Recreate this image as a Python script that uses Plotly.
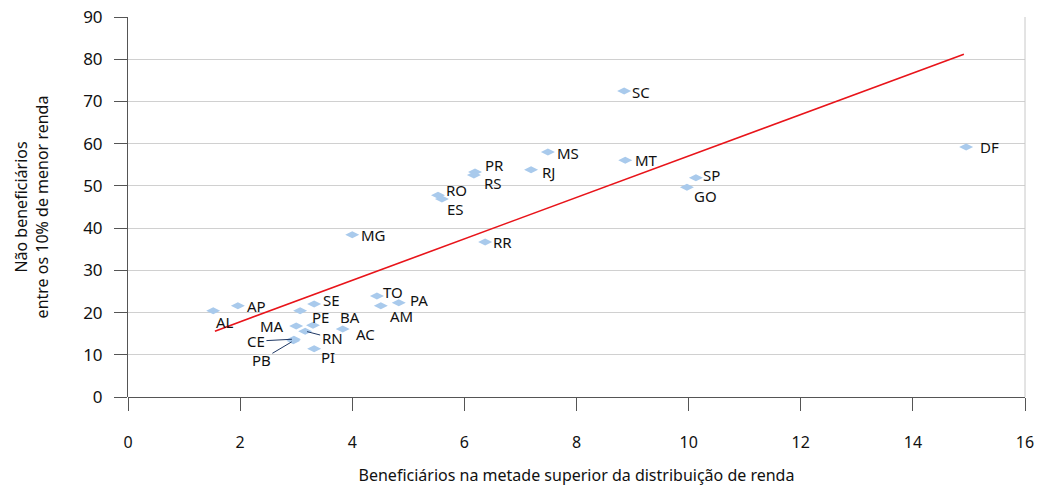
import plotly.graph_objects as go

states = ["AL", "AP", "SE", "PE", "MA", "BA", "AC", "RN", "CE", "PB", "PI",
          "TO", "AM", "PA", "MG", "RR", "RO", "ES", "PR", "RS", "RJ", "MS",
          "MT", "SC", "SP", "GO", "DF"]
x_vals = [1.52, 1.96, 3.32, 3.07, 3.00, 3.30, 3.83, 3.16, 2.96, 2.95, 3.32,
          4.44, 4.51, 4.83, 4.00, 6.37, 5.53, 5.60, 6.19, 6.17, 7.19, 7.49,
          8.87, 8.85, 10.13, 9.97, 14.95]
y_vals = [20.4, 21.6, 22.0, 20.4, 16.8, 17.0, 16.1, 15.6, 13.7, 13.3, 11.4,
          23.9, 21.6, 22.3, 38.4, 36.7, 47.8, 46.9, 53.3, 52.6, 53.8, 58.0,
          56.1, 72.5, 51.9, 49.7, 59.2]
trend_x = [1.55, 14.91]
trend_y = [15.6, 81.2]

x_ticks = [0, 2, 4, 6, 8, 10, 12, 14, 16]
y_ticks = [0, 10, 20, 30, 40, 50, 60, 70, 80, 90]

# label offsets in pixels (dx, dy; dy positive = down), and leader flag
label_style = {
    "AL": (12, 11, False), "AP": (19, 0, False), "SE": (17, -4, False),
    "PE": (20, 6, False), "MA": (-24, 0, False), "BA": (37, -8, False),
    "AC": (23, 5, False), "RN": (27, 7, True), "CE": (-38, 2, True),
    "PB": (-32, 19, True), "PI": (14, 8, False), "TO": (16, -4, False),
    "AM": (21, 10, False), "PA": (20, -3, False), "MG": (21, 0, False),
    "RR": (17, 0, False), "RO": (18, -5, False), "ES": (14, 10, False),
    "PR": (19, -7, False), "RS": (19, 8, False), "RJ": (17, 2, False),
    "MS": (20, 1, False), "MT": (21, 0, False), "SC": (17, 1, False),
    "SP": (16, -3, False), "GO": (19, 9, False), "DF": (23, 0, False),
}

font_family = "Noto Sans, Open Sans, sans-serif"
lab_font = dict(size=15, color="#111", family=font_family)

fig = go.Figure()
fig.add_trace(go.Scatter(
    x=x_vals, y=y_vals, mode="markers",
    marker=dict(symbol="diamond-wide", size=10, color="#A9CAEC"),
    hoverinfo="text", text=states, showlegend=False,
))
fig.add_trace(go.Scatter(
    x=trend_x, y=trend_y, mode="lines",
    line=dict(color="#E8141A", width=1.6), showlegend=False,
))

annotations = []
for s, xv, yv in zip(states, x_vals, y_vals):
    dx, dy, leader = label_style[s]
    if leader:
        annotations.append(dict(
            x=xv, y=yv, xref="x", yref="y", text=s, showarrow=True,
            ax=dx, ay=dy, arrowhead=0, arrowwidth=1, arrowcolor="#1F3864",
            standoff=2, font=lab_font,
        ))
    else:
        annotations.append(dict(
            x=xv, y=yv, xref="x", yref="y", text=s, showarrow=False,
            xshift=dx, yshift=-dy, font=lab_font,
        ))

fig.update_layout(
    width=1042, height=486,
    margin=dict(l=128, r=17, t=17, b=89, autoexpand=False),
    paper_bgcolor="white", plot_bgcolor="white",
    font=dict(family=font_family, size=16, color="#111"),
    annotations=annotations,
    shapes=[dict(type="line", xref="paper", yref="paper", x0=1, x1=1,
                 y0=0, y1=1, line=dict(color="#C8C8C8", width=1))],
    xaxis=dict(
        range=[0, 16], tickvals=x_ticks, ticktext=[str(v) for v in x_ticks],
        showgrid=False, zeroline=False, showline=False, automargin=False,
        ticks="outside", ticklen=13, tickcolor="#555", tickwidth=1,
        ticklabelstandoff=18,
        title=dict(text="Beneficiários na metade superior da distribuição de renda",
                   standoff=18, font=dict(size=16)),
        tickfont=dict(size=16),
    ),
    yaxis=dict(
        range=[0, 90], tickvals=y_ticks, ticktext=[str(v) for v in y_ticks],
        showgrid=True, gridcolor="#D0D0D0", gridwidth=1, automargin=False,
        zeroline=True, zerolinecolor="#555", zerolinewidth=1,
        showline=True, linecolor="#555", linewidth=1,
        ticks="outside", ticklen=13, tickcolor="#555", tickwidth=1,
        ticklabelstandoff=8,
        title=dict(text="Não beneficiários<br>entre os 10% de menor renda",
                   standoff=30, font=dict(size=16)),
        tickfont=dict(size=17),
    ),
)

fig.write_html("out.html", config={"displayModeBar": False},
               post_script="document.body.style.margin='0';")
